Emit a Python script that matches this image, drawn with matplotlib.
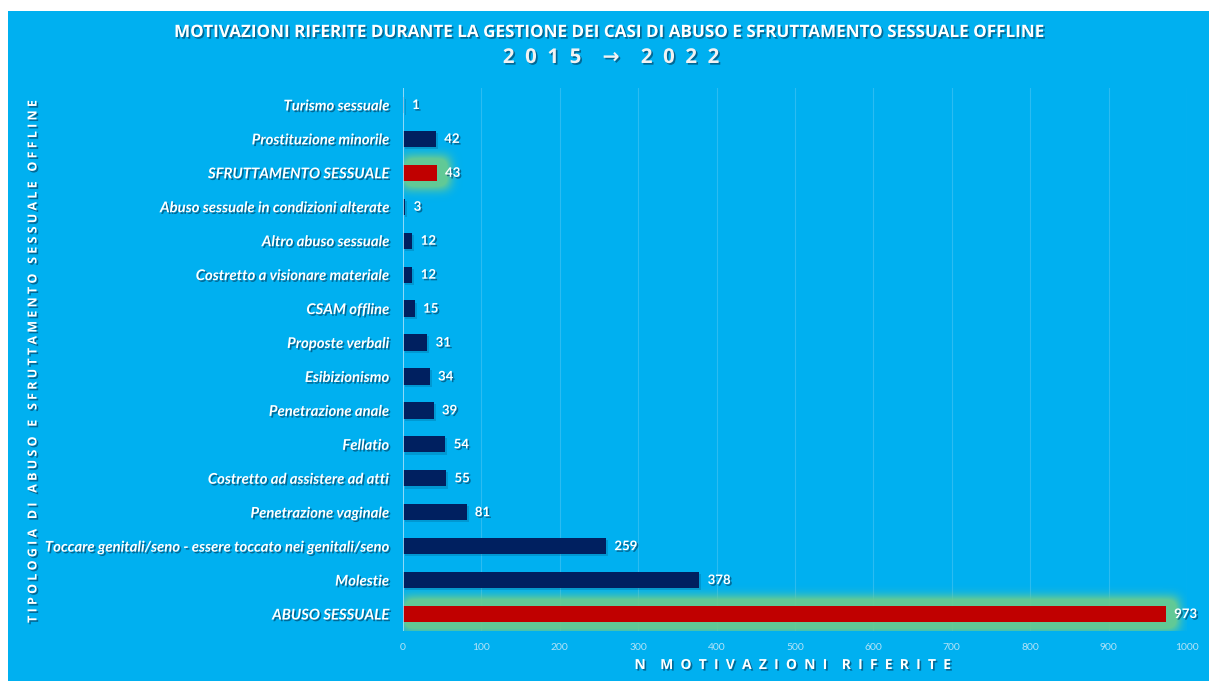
import matplotlib
import matplotlib.pyplot as plt
import matplotlib.patheffects as pe
import numpy as np
from matplotlib.patches import Rectangle

matplotlib.use("Agg")

# top to bottom as listed on the chart
categories = [
    "Turismo sessuale",
    "Prostituzione minorile",
    "SFRUTTAMENTO SESSUALE",
    "Abuso sessuale in condizioni alterate",
    "Altro abuso sessuale",
    "Costretto a visionare materiale",
    "CSAM offline",
    "Proposte verbali",
    "Esibizionismo",
    "Penetrazione anale",
    "Fellatio",
    "Costretto ad assistere ad atti",
    "Penetrazione vaginale",
    "Toccare genitali/seno - essere toccato nei genitali/seno",
    "Molestie",
    "ABUSO SESSUALE",
]
counts = [1, 42, 43, 3, 12, 12, 15, 31, 34, 39, 54, 55, 81, 259, 378, 973]
highlight = ["SFRUTTAMENTO SESSUALE", "ABUSO SESSUALE"]
x_ticks = list(range(0, 1001, 100))

BG = "#00B0F0"
DARK = "#002060"
RED = "#C00000"
GLOW = np.array([0.42, 0.80, 0.56])
BAR_H = 0.48

text_shadow = [pe.withSimplePatchShadow(offset=(1.2, -1.2), shadow_rgbFace="#004a70", alpha=0.7)]

fig = plt.figure(figsize=(12.09, 6.83), dpi=100, facecolor="white")
fig.patches.append(
    Rectangle((8 / 1209, 2 / 683), 1 - 8 / 1209, 1 - 13 / 683,
              transform=fig.transFigure, facecolor=BG, edgecolor="none", zorder=-5)
)

ax = fig.add_axes([403 / 1209, 52 / 683, 784 / 1209, 543 / 683])
ax.set_facecolor("none")
n = len(categories)
ypos = np.arange(n)[::-1]  # first category at the top
ax.set_xlim(0, 1000)
ax.set_ylim(-0.5, n - 0.5)

# soft green halo behind the highlighted bars
W, H = 784, 543
xs = (np.arange(W) + 0.5) / W * 1000
ys = (n - 0.5) - (np.arange(H) + 0.5) / H * n
mask = np.zeros((H, W))
for cat, val, y in zip(categories, counts, ypos):
    if cat in highlight:
        inside_y = np.abs(ys - y) <= BAR_H / 2 + 0.22
        inside_x = xs <= val + 16
        mask[np.ix_(inside_y, inside_x)] = 1.0


def blur(img, sigma):
    r = int(3 * sigma)
    k = np.exp(-0.5 * (np.arange(-r, r + 1) / sigma) ** 2)
    k /= k.sum()
    img = np.apply_along_axis(lambda m: np.convolve(m, k, mode="same"), 0, img)
    img = np.apply_along_axis(lambda m: np.convolve(m, k, mode="same"), 1, img)
    return img


soft = np.clip(blur(mask, 5.5) * 1.6, 0, 1)
rgba = np.zeros((H, W, 4))
rgba[..., :3] = GLOW
rgba[..., 3] = soft * 0.92
ax.imshow(rgba, extent=(0, 1000, -0.5, n - 0.5), aspect="auto", zorder=1,
          interpolation="bilinear", origin="upper")

for xt in x_ticks[1:]:
    ax.axvline(xt, color="#7fd3f5", lw=0.8, alpha=0.35, zorder=0.5)
ax.axvline(0, color="#a9e2fa", lw=1.2, zorder=3)

colors = [RED if c in highlight else DARK for c in categories]
bars = ax.barh(ypos, counts, height=BAR_H, color=colors, zorder=2)
for b, c in zip(bars, categories):
    if c not in highlight:
        b.set_path_effects([pe.withSimplePatchShadow(offset=(1.5, -1.5), shadow_rgbFace="#003a5a", alpha=0.2)])

for val, y in zip(counts, ypos):
    ax.annotate(str(val), (val, y), xytext=(6, 0), textcoords="offset points",
                va="center", ha="left", color="white", fontsize=9.5,
                fontweight="bold", family="Lato", path_effects=text_shadow, zorder=4)

ax.set_yticks(ypos)
ax.set_yticklabels(categories, fontsize=10.7, fontweight="bold", style="italic",
                   family="Lato", color="white")
for t in ax.get_yticklabels():
    t.set_path_effects(text_shadow)
ax.tick_params(axis="y", length=0, pad=10)
ax.set_xticks(x_ticks)
ax.set_xticklabels([str(v) for v in x_ticks], fontsize=7.5, color="#b3e3f7", family="Lato")
ax.tick_params(axis="x", length=0, pad=9)
for s in ax.spines.values():
    s.set_visible(False)

fig.text(0.505, 1 - 32 / 683,
         "MOTIVAZIONI RIFERITE DURANTE LA GESTIONE DEI CASI DI ABUSO E SFRUTTAMENTO SESSUALE OFFLINE",
         ha="center", va="center", color="white", fontsize=12.3, fontweight="bold",
         family="Open Sans", path_effects=text_shadow)
fig.text(0.505, 1 - 58 / 683, "2  0  1  5    \u2192    2  0  2  2",
         ha="center", va="center", color="#f2f2f2", fontsize=14.7, fontweight="bold",
         family=["Open Sans", "DejaVu Sans"], path_effects=text_shadow)

fig.text(33 / 1209, 1 - 361 / 683,
         "T I P O L O G I A   D I   A B U S O   E   S F R U T T A M E N T O   S E S S U A L E   O F F L I N E",
         rotation=90, ha="center", va="center", color="white", fontsize=9,
         fontweight="bold", family="Open Sans", path_effects=text_shadow)
fig.text(793 / 1209, 1 - 665 / 683,
         "N    M  O  T  I  V  A  Z  I  O  N  I    R  I  F  E  R  I  T  E",
         ha="center", va="center", color="white", fontsize=10, fontweight="bold",
         family="Open Sans", path_effects=text_shadow)

fig.savefig("out.png", dpi=100, facecolor="white")
